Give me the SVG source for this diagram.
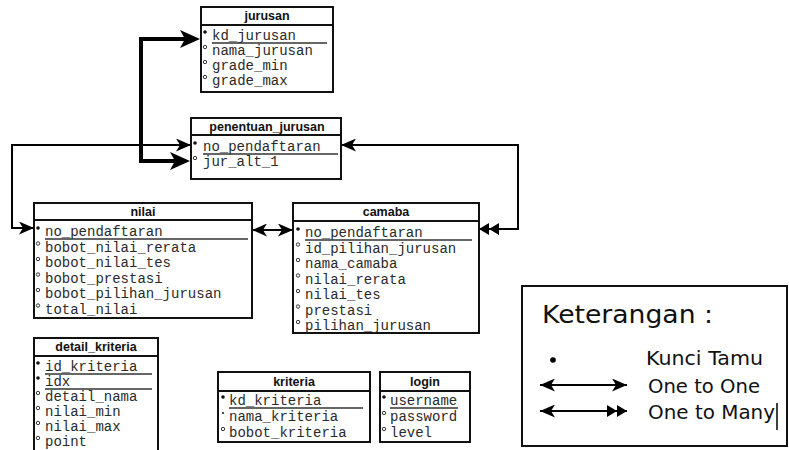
<svg xmlns="http://www.w3.org/2000/svg" width="789" height="450" viewBox="0 0 789 450">
<style>
.box{fill:#fff;stroke:#111;stroke-width:2}
.hl{stroke:#111;stroke-width:2}
.ul{stroke:#333;stroke-width:1.3}
.title{font-family:"Liberation Sans",Arial,sans-serif;font-weight:bold;font-size:12.5px;text-anchor:middle;fill:#111}
.attr{font-family:"Liberation Mono","Courier New",monospace;font-size:14px;fill:#2a2a2a}
.k{fill:#111}
.o{fill:none;stroke:#222;stroke-width:0.9}
.conn{fill:none;stroke:#000;stroke-width:2}
.thick{fill:none;stroke:#000;stroke-width:4}
.leg{font-family:"DejaVu Sans",Verdana,sans-serif;fill:#111}
</style>
<defs>
<marker id="ah" viewBox="0 0 15 13" refX="15" refY="6.5" markerWidth="15" markerHeight="13" markerUnits="userSpaceOnUse" orient="auto-start-reverse">
<path d="M0,0 L15,6.5 L0,13 L4,6.5 Z" fill="#000"/>
</marker>
<marker id="ahT" viewBox="0 0 20 18" refX="13" refY="9" markerWidth="20" markerHeight="18" markerUnits="userSpaceOnUse" orient="auto-start-reverse">
<path d="M0,0 L20,9 L0,18 L5,9 Z" fill="#000"/>
</marker>
<marker id="ah2" viewBox="0 0 20 12" refX="20" refY="6" markerWidth="20" markerHeight="12" markerUnits="userSpaceOnUse" orient="auto-start-reverse">
<path d="M0,0 L10,6 L0,12 Z M10,0 L20,6 L10,12 Z" fill="#000"/>
</marker>
</defs>

<g id="connectors">
<path class="thick" d="M193,39 H141 V161 H183" marker-start="url(#ahT)" marker-end="url(#ahT)"/>
<path class="conn" d="M191,145 H12 V228 H34" marker-start="url(#ah)" marker-end="url(#ah)"/>
<path class="conn" d="M252,230 H293" marker-start="url(#ah)" marker-end="url(#ah)"/>
<path class="conn" d="M479,229 H518 V145 H341" marker-start="url(#ah2)" marker-end="url(#ah)"/>
</g>

<g id="jurusan">
<rect class="box" x="201" y="7" width="132" height="85"/>
<line class="hl" x1="201" y1="25" x2="333" y2="25"/>
<text class="title" x="267" y="20">jurusan</text>
<circle class="k" cx="205" cy="32" r="1.8"/>
<text class="attr" x="212" y="40">kd_jurusan</text>
<line class="ul" x1="212" y1="43" x2="327" y2="43"/>
<circle class="o" cx="205" cy="47" r="1.7"/>
<text class="attr" x="212" y="55">nama_jurusan</text>
<circle class="o" cx="205" cy="62" r="1.7"/>
<text class="attr" x="212" y="70">grade_min</text>
<circle class="o" cx="205" cy="77" r="1.7"/>
<text class="attr" x="212" y="85">grade_max</text>
</g>

<g id="penentuan_jurusan">
<rect class="box" x="191" y="118" width="150" height="61"/>
<line class="hl" x1="191" y1="135" x2="341" y2="135"/>
<text class="title" x="267" y="131">penentuan_jurusan</text>
<circle class="k" cx="195" cy="143" r="1.8"/>
<text class="attr" x="203" y="151">no_pendaftaran</text>
<line class="ul" x1="203" y1="154" x2="338" y2="154"/>
<circle class="o" cx="195" cy="158" r="1.7"/>
<text class="attr" x="203" y="166">jur_alt_1</text>
</g>

<g id="nilai">
<rect class="box" x="34" y="203" width="218" height="115"/>
<line class="hl" x1="34" y1="220" x2="252" y2="220"/>
<text class="title" x="143" y="216">nilai</text>
<circle class="k" cx="38" cy="228" r="1.8"/>
<text class="attr" x="45" y="236">no_pendaftaran</text>
<line class="ul" x1="45" y1="239" x2="248" y2="239"/>
<circle class="o" cx="38" cy="243.5" r="1.7"/>
<text class="attr" x="45" y="251.5">bobot_nilai_rerata</text>
<circle class="o" cx="38" cy="259" r="1.7"/>
<text class="attr" x="45" y="267">bobot_nilai_tes</text>
<circle class="o" cx="38" cy="274.5" r="1.7"/>
<text class="attr" x="45" y="282.5">bobot_prestasi</text>
<circle class="o" cx="38" cy="290" r="1.7"/>
<text class="attr" x="45" y="298">bobot_pilihan_jurusan</text>
<circle class="o" cx="38" cy="305.5" r="1.7"/>
<text class="attr" x="45" y="313.5">total_nilai</text>
</g>

<g id="camaba">
<rect class="box" x="293" y="203" width="186" height="130"/>
<line class="hl" x1="293" y1="221" x2="479" y2="221"/>
<text class="title" x="386" y="216">camaba</text>
<circle class="k" cx="298" cy="229" r="1.8"/>
<text class="attr" x="305" y="237">no_pendaftaran</text>
<line class="ul" x1="305" y1="240" x2="472" y2="240"/>
<circle class="o" cx="298" cy="244.5" r="1.7"/>
<text class="attr" x="305" y="252.5">id_pilihan_jurusan</text>
<circle class="o" cx="298" cy="260" r="1.7"/>
<text class="attr" x="305" y="268">nama_camaba</text>
<circle class="o" cx="298" cy="275.5" r="1.7"/>
<text class="attr" x="305" y="283.5">nilai_rerata</text>
<circle class="o" cx="298" cy="291" r="1.7"/>
<text class="attr" x="305" y="299">nilai_tes</text>
<circle class="o" cx="298" cy="306.5" r="1.7"/>
<text class="attr" x="305" y="314.5">prestasi</text>
<circle class="o" cx="298" cy="322" r="1.7"/>
<text class="attr" x="305" y="330">pilihan_jurusan</text>
</g>

<g id="detail_kriteria">
<rect class="box" x="34" y="338" width="124" height="130"/>
<line class="hl" x1="34" y1="356" x2="158" y2="356"/>
<text class="title" x="96" y="351">detail_kriteria</text>
<circle class="k" cx="38" cy="363" r="1.8"/>
<text class="attr" x="45" y="371">id_kriteria</text>
<line class="ul" x1="45" y1="374" x2="152" y2="374"/>
<circle class="k" cx="38" cy="378" r="1.8"/>
<text class="attr" x="45" y="386">idx</text>
<line class="ul" x1="45" y1="389" x2="152" y2="389"/>
<circle class="o" cx="38" cy="393" r="1.7"/>
<text class="attr" x="45" y="401">detail_nama</text>
<circle class="o" cx="38" cy="408" r="1.7"/>
<text class="attr" x="45" y="416">nilai_min</text>
<circle class="o" cx="38" cy="423" r="1.7"/>
<text class="attr" x="45" y="431">nilai_max</text>
<circle class="o" cx="38" cy="438" r="1.7"/>
<text class="attr" x="45" y="446">point</text>
</g>

<g id="kriteria">
<rect class="box" x="218" y="372" width="152" height="70"/>
<line class="hl" x1="218" y1="391" x2="370" y2="391"/>
<text class="title" x="294" y="386">kriteria</text>
<circle class="k" cx="223" cy="397" r="1.8"/>
<text class="attr" x="229" y="405">kd_kriteria</text>
<line class="ul" x1="229" y1="408" x2="363" y2="408"/>
<circle class="k" cx="223" cy="413" r="1"/>
<text class="attr" x="229" y="421">nama_kriteria</text>
<circle class="o" cx="223" cy="429" r="1.7"/>
<text class="attr" x="229" y="437">bobot_kriteria</text>
</g>

<g id="login">
<rect class="box" x="380" y="372" width="90" height="70"/>
<line class="hl" x1="380" y1="391" x2="470" y2="391"/>
<text class="title" x="425" y="386">login</text>
<circle class="k" cx="384" cy="397" r="1.8"/>
<text class="attr" x="390" y="405">username</text>
<line class="ul" x1="390" y1="408" x2="458" y2="408"/>
<circle class="o" cx="384" cy="413" r="1.7"/>
<text class="attr" x="390" y="421">password</text>
<circle class="o" cx="384" cy="429" r="1.7"/>
<text class="attr" x="390" y="437">level</text>
</g>

<g id="legend">
<rect x="522" y="286" width="265" height="160" fill="#fff" stroke="#111" stroke-width="2"/>
<text class="leg" x="542" y="323" font-size="25" textLength="171" lengthAdjust="spacingAndGlyphs">Keterangan :</text>
<circle cx="553" cy="360" r="2.8" fill="#000"/>
<text class="leg" x="646" y="365" font-size="19.5" textLength="117" lengthAdjust="spacingAndGlyphs">Kunci Tamu</text>
<path class="conn" d="M540,385 H627" marker-start="url(#ah)" marker-end="url(#ah)"/>
<text class="leg" x="648" y="393" font-size="19.5" textLength="112" lengthAdjust="spacingAndGlyphs">One to One</text>
<path class="conn" d="M540,411 H627" marker-start="url(#ah)" marker-end="url(#ah2)"/>
<text class="leg" x="648" y="419" font-size="19.5" textLength="127" lengthAdjust="spacingAndGlyphs">One to Many</text>
<line x1="777" y1="403" x2="777" y2="430" stroke="#000" stroke-width="1.5"/>
</g>
</svg>
